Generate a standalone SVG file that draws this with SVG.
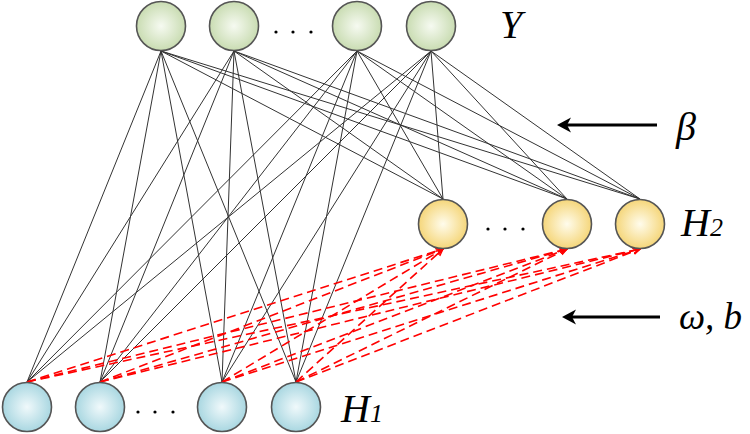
<svg xmlns="http://www.w3.org/2000/svg" width="750" height="434" viewBox="0 0 750 434">
<defs>
<radialGradient id="gG" cx="50%" cy="50%" r="50%"><stop offset="0" stop-color="#f6faf1"/><stop offset="1" stop-color="#c9dcb2"/></radialGradient>
<radialGradient id="gY" cx="50%" cy="50%" r="50%"><stop offset="0" stop-color="#fffcec"/><stop offset="1" stop-color="#f5d67a"/></radialGradient>
<radialGradient id="gB" cx="50%" cy="50%" r="50%"><stop offset="0" stop-color="#f0f9fb"/><stop offset="1" stop-color="#a9d7e1"/></radialGradient>
<marker id="ra" markerWidth="8" markerHeight="8" refX="7" refY="4" orient="auto" markerUnits="userSpaceOnUse"><path d="M0,1 L7,4 L0,7" fill="none" stroke="#ff0000" stroke-width="1.3"/></marker>
</defs>
<style>
.n{stroke:#555;stroke-width:1.6}
.g{fill:url(#gG)}.y{fill:url(#gY)}.b{fill:url(#gB)}
.k{stroke:#333;stroke-width:1;fill:none}
.r{stroke:#ff0000;stroke-width:1.6;stroke-dasharray:9 5;fill:none}
.t{font-family:"Liberation Serif",serif;font-style:italic;fill:#000}
.dot{fill:#000}
.arr{stroke:#000;stroke-width:2.8}
.head{fill:#000}
</style>
<g id="connectors">
<g id="black">
<path class="k" d="M161,51 L27,382 M161,51 L100,382 M161,51 L222,382 M161,51 L296,382 M161,51 L443,199 M161,51 L567,199 M161,51 L640,199"/>
<path class="k" d="M234,51 L27,382 M234,51 L100,382 M234,51 L222,382 M234,51 L296,382 M234,51 L443,199 M234,51 L567,199 M234,51 L640,199"/>
<path class="k" d="M357,51 L27,382 M357,51 L100,382 M357,51 L222,382 M357,51 L296,382 M357,51 L443,199 M357,51 L567,199 M357,51 L640,199"/>
<path class="k" d="M431,51 L27,382 M431,51 L100,382 M431,51 L222,382 M431,51 L296,382 M431,51 L443,199 M431,51 L567,199 M431,51 L640,199"/>
</g>
<g id="red">
<line class="r" x1="27" y1="382" x2="443" y2="249" marker-end="url(#ra)"/>
<line class="r" x1="100" y1="382" x2="443" y2="249" marker-end="url(#ra)"/>
<line class="r" x1="222" y1="382" x2="443" y2="249" marker-end="url(#ra)"/>
<line class="r" x1="296" y1="382" x2="443" y2="249" marker-end="url(#ra)"/>
<line class="r" x1="27" y1="382" x2="567" y2="249" marker-end="url(#ra)"/>
<line class="r" x1="100" y1="382" x2="567" y2="249" marker-end="url(#ra)"/>
<line class="r" x1="222" y1="382" x2="567" y2="249" marker-end="url(#ra)"/>
<line class="r" x1="296" y1="382" x2="567" y2="249" marker-end="url(#ra)"/>
<line class="r" x1="27" y1="382" x2="640" y2="249" marker-end="url(#ra)"/>
<line class="r" x1="100" y1="382" x2="640" y2="249" marker-end="url(#ra)"/>
<line class="r" x1="222" y1="382" x2="640" y2="249" marker-end="url(#ra)"/>
<line class="r" x1="296" y1="382" x2="640" y2="249" marker-end="url(#ra)"/>
</g>
<g id="arrow-beta"><line class="arr" x1="657" y1="125" x2="566" y2="125"/><path class="head" d="M557,125 L571,117.5 L567,125 L571,132.5 Z"/></g>
<g id="arrow-wb"><line class="arr" x1="660" y1="317" x2="571" y2="317"/><path class="head" d="M562,317 L576,309.5 L572,317 L576,324.5 Z"/></g>
</g>
<g id="Y-layer">
<g id="y1"><circle class="n g" cx="161" cy="26" r="24.5"/></g>
<g id="y2"><circle class="n g" cx="234" cy="26" r="24.5"/></g>
<g id="y-dots"><circle class="dot" cx="276" cy="32" r="1.6"/><circle class="dot" cx="293" cy="32" r="1.6"/><circle class="dot" cx="311" cy="32" r="1.6"/></g>
<g id="y3"><circle class="n g" cx="357" cy="26" r="24.5"/></g>
<g id="y4"><circle class="n g" cx="431" cy="26" r="24.5"/></g>
<text class="t" x="500" y="38" font-size="40">Y</text>
</g>
<g id="H2-layer">
<g id="h2a"><circle class="n y" cx="443" cy="224" r="24.5"/></g>
<g id="h2-dots"><circle class="dot" cx="488" cy="229" r="1.6"/><circle class="dot" cx="505" cy="229" r="1.6"/><circle class="dot" cx="523" cy="229" r="1.6"/></g>
<g id="h2b"><circle class="n y" cx="567" cy="224" r="24.5"/></g>
<g id="h2c"><circle class="n y" cx="640" cy="224" r="24.5"/></g>
<text class="t" x="681" y="236" font-size="40">H<tspan font-size="26">2</tspan></text>
</g>
<g id="H1-layer">
<g id="h1a"><circle class="n b" cx="27" cy="407" r="24.5"/></g>
<g id="h1b"><circle class="n b" cx="100" cy="407" r="24.5"/></g>
<g id="h1-dots"><circle class="dot" cx="138" cy="412" r="1.6"/><circle class="dot" cx="155" cy="412" r="1.6"/><circle class="dot" cx="173" cy="412" r="1.6"/></g>
<g id="h1c"><circle class="n b" cx="222" cy="407" r="24.5"/></g>
<g id="h1d"><circle class="n b" cx="296" cy="407" r="24.5"/></g>
<text class="t" x="341" y="422" font-size="40">H<tspan font-size="26">1</tspan></text>
</g>
<g id="labels">
<text class="t" x="676" y="140" font-size="40">β</text>
<text class="t" x="679" y="329" font-size="37">ω, b</text>
</g>
</svg>
